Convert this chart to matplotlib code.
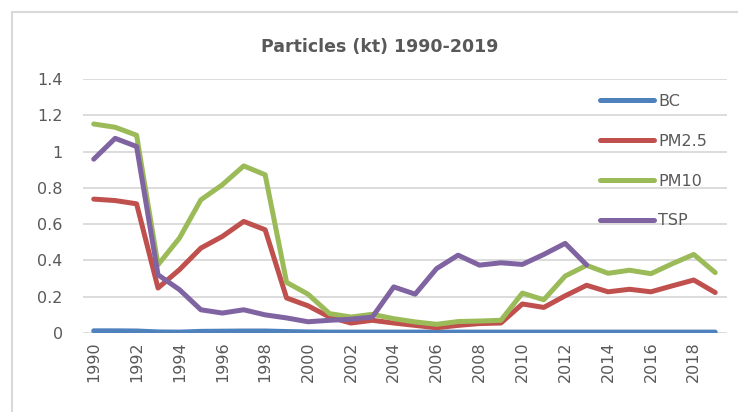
import numpy as np
import matplotlib
matplotlib.use("Agg")
import matplotlib.pyplot as plt

years = list(range(1990, 2020))
bc = [0.012, 0.012, 0.011, 0.006, 0.005, 0.009, 0.010, 0.011, 0.011, 0.008,
      0.006, 0.005, 0.005, 0.005, 0.005, 0.005, 0.005, 0.005, 0.005, 0.005,
      0.005, 0.005, 0.005, 0.005, 0.005, 0.005, 0.005, 0.005, 0.005, 0.005]
pm25 = [0.738, 0.730, 0.712, 0.248, 0.349, 0.468, 0.532, 0.615, 0.569, 0.193,
        0.150, 0.088, 0.055, 0.070, 0.055, 0.042, 0.029, 0.042, 0.052, 0.055,
        0.160, 0.141, 0.205, 0.263, 0.227, 0.241, 0.227, 0.260, 0.292, 0.223]
pm10 = [1.152, 1.134, 1.090, 0.376, 0.523, 0.734, 0.817, 0.921, 0.872, 0.279,
        0.214, 0.107, 0.088, 0.103, 0.079, 0.061, 0.048, 0.063, 0.066, 0.070,
        0.220, 0.183, 0.314, 0.373, 0.329, 0.346, 0.327, 0.382, 0.433, 0.333]
tsp = [0.958, 1.073, 1.028, 0.321, 0.239, 0.128, 0.110, 0.128, 0.100, 0.083,
       0.062, 0.070, 0.076, 0.088, 0.254, 0.214, 0.355, 0.429, 0.374, 0.387,
       0.378, 0.433, 0.494, 0.375, np.nan, np.nan, np.nan, np.nan, np.nan, np.nan]
series_names = ["BC", "PM2.5", "PM10", "TSP"]
series_colors = ["#4F81BD", "#C0504D", "#9BBB59", "#8064A2"]
title = "Particles (kt) 1990-2019"
yticks = [0, 0.2, 0.4, 0.6, 0.8, 1.0, 1.2, 1.4]
ytick_labels = ["0", "0.2", "0.4", "0.6", "0.8", "1", "1.2", "1.4"]
xticks = years[::2]

W, H = 738, 412
fig = plt.figure(figsize=(W / 100, H / 100), dpi=100)
txt = "#595959"

# chart frame (only left and top visible in the crop)
fig.add_artist(plt.Line2D([12 / W, 12 / W], [0, 1 - 12 / H], color="#D9D9D9", lw=1.5))
fig.add_artist(plt.Line2D([12 / W, 1.01], [1 - 12 / H, 1 - 12 / H], color="#D9D9D9", lw=1.5))

left, right = 83 / W, 727 / W
bottom, top = (H - 333) / H, (H - 79) / H
ax = fig.add_axes([left, bottom, right - left, top - bottom])

for vals, name, col in zip([bc, pm25, pm10, tsp], series_names, series_colors):
    ax.plot(years, vals, color=col, lw=3.6, label=name,
            solid_capstyle="round", solid_joinstyle="round")

ax.set_xlim(1989.5, 2019.55)
ax.set_ylim(0, 1.4)
ax.set_yticks(yticks)
ax.set_yticklabels(ytick_labels)
ax.set_xticks(xticks)
ax.set_xticklabels([str(y) for y in xticks], rotation=90)
ax.grid(axis="y", color="#D9D9D9", lw=1.3)
ax.set_axisbelow(True)
for s in ax.spines.values():
    s.set_visible(False)
ax.tick_params(axis="both", length=0, colors=txt, labelsize=11.5)
ax.tick_params(axis="y", pad=14.5)
ax.tick_params(axis="x", pad=6)

fig.text(380 / W, 1 - 47 / H, title, ha="center", va="center",
         fontsize=12.5, fontweight="bold", color=txt)

leg = ax.legend(loc="upper left", bbox_to_anchor=((600 - 83) / (727 - 83), 1 - (94 - 79) / 254),
                frameon=False, fontsize=11.5, handlelength=3.4, handletextpad=0.25,
                labelspacing=1.55, borderaxespad=0, borderpad=0)
for t in leg.get_texts():
    t.set_color(txt)

fig.savefig("out.png", dpi=100, facecolor="white")
